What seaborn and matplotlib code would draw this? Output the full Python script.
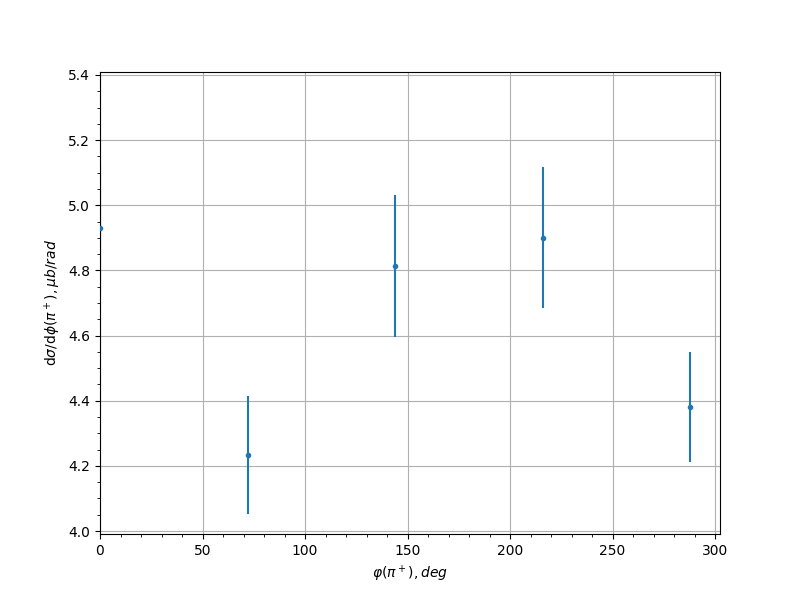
import numpy as np
import pandas as pd
import matplotlib
matplotlib.use("Agg")
import matplotlib.pyplot as plt
import seaborn as sns

# Angle bins (deg), cross section values and their errors
phi = [0, 72, 144, 216, 288]
xsec = [4.93, 4.233, 4.814, 4.901, 4.381]
xsec_err = [0.20, 0.182, 0.218, 0.215, 0.170]

data = pd.DataFrame({"phi": phi, "xsec": xsec, "err": xsec_err})

fig, ax = plt.subplots(figsize=(8, 6), dpi=100)

# Error bars, no caps
ax.errorbar(data["phi"], data["xsec"], yerr=data["err"], fmt="none",
            ecolor="C0", elinewidth=1.5, zorder=2)

# Points
sns.scatterplot(data=data, x="phi", y="xsec", marker=".", s=36,
                color="C0", edgecolor="C0", linewidth=1, ax=ax, zorder=3)

ax.set_xlim(0, 302.4)
ax.set_ylim(3.991, 5.409)
ax.minorticks_on()
ax.grid(True, which="major")

ax.set_xlabel(r"$\varphi(\pi^+), deg$")
ax.set_ylabel(r"$\mathrm{d}\sigma/\mathrm{d}\phi(\pi^+), \mu b/rad$")

plt.savefig("out.png", dpi=100)
